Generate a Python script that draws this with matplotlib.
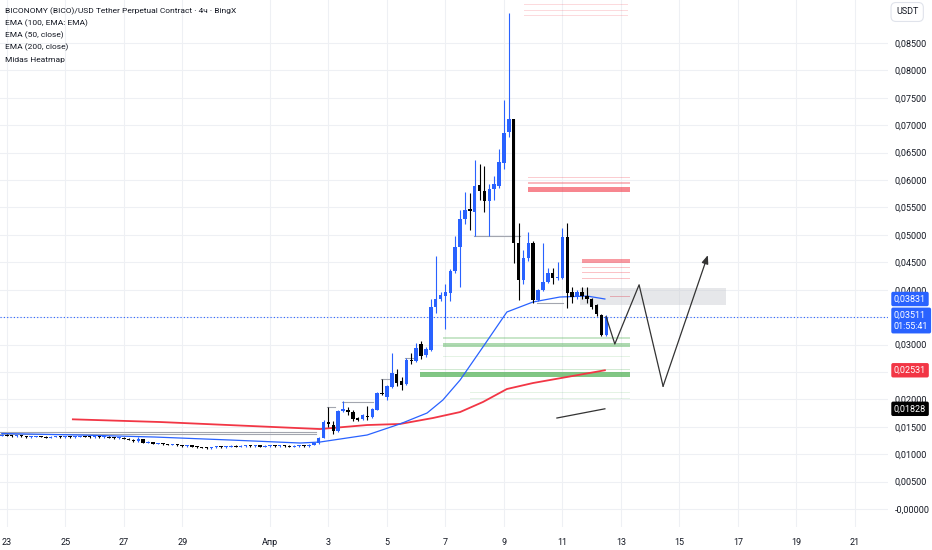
import numpy as np
import matplotlib
matplotlib.use("Agg")
import matplotlib.pyplot as plt
import matplotlib.transforms as mtransforms
from matplotlib import font_manager

# 4h candles, prices in 1e-4 USDT, first bar ~ Mar 22 evening, last bar Apr 12 12:00
opens = [134, 135, 134, 133, 134, 133, 131, 132, 133, 132, 130, 132, 133, 131, 132, 131,
         132, 133, 132, 131, 132, 131, 132, 130, 129, 130, 128, 126, 124, 127, 121, 122,
         119, 120, 118, 117, 118, 116, 115, 116, 114, 113, 112, 111, 113, 114, 113, 114,
         115, 114, 115, 116, 115, 116, 114, 115, 116, 115, 116, 115, 114, 115, 116, 115,
         117, 120, 130, 159, 154, 142, 179, 181, 177, 166, 164, 170, 168, 181, 212, 205,
         223, 246, 233, 228, 272, 270, 301, 281, 290, 368, 383, 388, 394, 434, 478, 529,
         547, 542, 591, 580, 562, 584, 590, 631, 688, 711, 485, 418, 458, 485, 381, 400,
         414, 430, 421, 422, 496, 395, 386, 396, 388, 383, 372, 354, 317]
highs = [136, 136, 135, 135, 135, 134, 133, 134, 134, 133, 133, 134, 134, 133, 133, 133,
         134, 134, 133, 133, 133, 133, 133, 131, 131, 131, 129, 127, 131, 128, 124, 123,
         121, 121, 119, 119, 119, 117, 117, 117, 115, 114, 113, 114, 115, 115, 115, 116,
         116, 116, 117, 117, 117, 117, 116, 117, 117, 117, 117, 116, 116, 117, 117, 118,
         121, 131, 162, 186, 160, 181, 197, 186, 180, 168, 173, 188, 184, 213, 237, 226,
         285, 255, 240, 275, 285, 303, 307, 296, 383, 462, 396, 410, 437, 498, 545, 578,
         576, 637, 629, 626, 592, 607, 657, 746, 905, 712, 522, 472, 505, 488, 402, 485,
         440, 440, 450, 513, 522, 405, 400, 405, 405, 385, 374, 356, 354]
lows = [133, 133, 132, 132, 132, 130, 130, 131, 131, 129, 129, 131, 130, 130, 130, 130,
        131, 131, 130, 130, 130, 130, 129, 128, 128, 127, 125, 123, 123, 120, 120, 118,
        118, 117, 116, 116, 115, 114, 114, 113, 112, 111, 110, 110, 112, 112, 112, 113,
        113, 113, 114, 114, 114, 113, 113, 114, 114, 114, 114, 113, 113, 114, 114, 114,
        116, 119, 129, 150, 137, 141, 177, 172, 160, 160, 162, 163, 166, 180, 208, 199,
        221, 225, 218, 226, 264, 268, 274, 278, 288, 358, 380, 328, 380, 430, 405, 520,
        509, 498, 564, 542, 498, 564, 585, 620, 679, 449, 381, 410, 452, 376, 379, 398,
        412, 410, 418, 420, 367, 375, 383, 383, 375, 365, 352, 316, 316]
closes = [135, 134, 133, 134, 133, 131, 132, 133, 132, 130, 132, 133, 131, 132, 131, 132,
          133, 132, 131, 132, 131, 132, 130, 129, 130, 128, 126, 124, 127, 121, 122, 119,
          120, 118, 117, 118, 116, 115, 116, 114, 113, 112, 111, 113, 114, 113, 114, 115,
          114, 115, 116, 115, 116, 114, 115, 116, 115, 116, 115, 114, 115, 116, 115, 117,
          120, 130, 159, 155, 142, 179, 182, 177, 165, 163, 171, 168, 182, 212, 210, 224,
          248, 230, 226, 272, 270, 294, 279, 292, 368, 383, 390, 396, 434, 478, 529, 545,
          544, 589, 580, 562, 584, 592, 633, 686, 711, 485, 418, 458, 485, 381, 400, 414,
          430, 421, 422, 496, 394, 386, 395, 388, 383, 368, 356, 317, 351.1]
last_bar_day = 11.5  # days after Apr 1 00:00

# moving averages (day, price)
ema50_days = [-9.17, -6.5, -3.93, -1.37, 1.03, 1.71, 3.32, 4.44, 5.37, 5.91, 6.5, 7.28, 8.1,
              8.99, 9.91, 10.84, 11.45]
ema50_vals = [0.01377, 0.0135, 0.01313, 0.01259, 0.01204, 0.01222, 0.0135, 0.01551, 0.01751,
              0.01988, 0.02353, 0.02955, 0.03594, 0.03776, 0.03867, 0.03885, 0.03831]
ema200_days = [-6.74, -3.76, -1.03, 1.71, 3.32, 4.44, 5.57, 6.5, 7.28, 8.1, 8.99, 10.15, 11.45]
ema200_vals = [0.01636, 0.01587, 0.01523, 0.01459, 0.01532, 0.01551, 0.0166, 0.01769, 0.01952,
               0.02189, 0.02298, 0.02408, 0.02531]
ema100_days = [9.81, 11.45]
ema100_vals = [0.0166, 0.01828]

# drawn projection path
path_days = [11.49, 11.79, 12.62, 13.44, 14.97]
path_vals = [0.0351, 0.0301, 0.0409, 0.0224, 0.0463]

# heatmap levels: start day, end day, low, high, colour, alpha
zones = [
    (8.68, 12.24, 0.0920, 0.0922, "#f23645", 0.18),
    (8.68, 12.24, 0.0909, 0.0911, "#f23645", 0.18),
    (8.68, 12.24, 0.0900, 0.0902, "#f23645", 0.18),
    (8.82, 12.31, 0.0603, 0.0605, "#f23645", 0.25),
    (8.82, 12.31, 0.0593, 0.0596, "#f23645", 0.35),
    (8.82, 12.31, 0.0578, 0.0587, "#f23645", 0.6),
    (10.67, 12.31, 0.0449, 0.0456, "#f23645", 0.5),
    (10.67, 12.31, 0.0440, 0.0442, "#f23645", 0.3),
    (10.67, 12.31, 0.0431, 0.0433, "#f23645", 0.3),
    (10.67, 12.31, 0.0419, 0.0421, "#f23645", 0.3),
    (11.62, 12.31, 0.0386, 0.0388, "#f23645", 0.55),
    (10.60, 15.59, 0.0372, 0.0403, "#c9cbd1", 0.45),
    (5.91, 12.31, 0.0311, 0.0313, "#4caf50", 0.3),
    (5.91, 12.31, 0.0296, 0.0303, "#4caf50", 0.45),
    (5.91, 12.31, 0.0278, 0.0280, "#4caf50", 0.15),
    (5.13, 12.31, 0.0254, 0.0256, "#4caf50", 0.25),
    (5.13, 12.31, 0.0240, 0.0250, "#4caf50", 0.7),
    (6.84, 12.31, 0.0212, 0.0214, "#4caf50", 0.15),
    (6.84, 12.31, 0.0201, 0.0203, "#4caf50", 0.15),
]

# thin grey level lines: start day, end day, price
grey_lines = [(-9.23, 1.57, 0.0140), (-9.23, 1.57, 0.0137), (1.95, 2.22, 0.0186),
              (2.46, 3.52, 0.0195), (3.79, 4.17, 0.0237), (4.62, 4.89, 0.0275),
              (6.97, 8.55, 0.0498), (9.13, 10.02, 0.0376)]

date_days = [-9, -7, -5, -3, 0, 2, 4, 6, 8, 10, 12, 14, 16, 18, 20]
date_labels = ["23", "25", "27", "29", "Апр", "3", "5", "7", "9", "11", "13", "15", "17", "19", "21"]
price_ticks = np.arange(0, 0.0851, 0.005)

legend_lines = ["BICONOMY (BICO)/USD Tether Perpetual Contract · 4ч · BingX",
                "EMA (100, EMA: EMA)", "EMA (50, close)", "EMA (200, close)", "Midas Heatmap"]

BLUE = "#2962ff"
RED = "#f23645"
INK = "#131722"

avail = {f.name for f in font_manager.fontManager.ttflist}
ui_font = "Liberation Sans Narrow" if "Liberation Sans Narrow" in avail else "Roboto"
plt.rcParams["font.family"] = [ui_font, "DejaVu Sans"]

W, H = 932, 550
fig = plt.figure(figsize=(W / 100, H / 100), dpi=100)
ax = fig.add_axes([0, (H - 527) / H, 888 / W, 527 / H])
ax.set_xlim(-9.231, 21.13)
ax.set_ylim(-0.00328, 0.09285)

o = np.array(opens) / 1e4
h = np.array(highs) / 1e4
l = np.array(lows) / 1e4
c = np.array(closes) / 1e4
n = len(o)
t = last_bar_day - (n - 1 - np.arange(n)) / 6.0
cols = np.where(c >= o, BLUE, "#000000")

for d0, d1, lo, hi, col, a in zones:
    ax.fill_between([d0, d1], lo, hi, color=col, alpha=a, lw=0, zorder=1)
for d0, d1, v in grey_lines:
    ax.plot([d0, d1], [v, v], color="#a3a6af", lw=0.8, zorder=2)

ax.plot(ema200_days, ema200_vals, color=RED, lw=1.3, zorder=2.5)
ax.plot(ema50_days, ema50_vals, color=BLUE, lw=0.9, zorder=2.5)
ax.plot(ema100_days, ema100_vals, color="#333333", lw=0.9, zorder=2.5)

ax.vlines(t, l, h, colors=cols, lw=0.8, zorder=3)
ax.bar(t, np.maximum(np.abs(c - o), 0.00018), bottom=np.minimum(o, c), width=0.12,
       color=cols, lw=0, zorder=4)

ax.axhline(c[-1], color=BLUE, lw=0.8, ls=(0, (1, 2)), zorder=2)

ax.plot(path_days[:-1], path_vals[:-1], color="#333333", lw=0.9, zorder=5)
ax.annotate("", xy=(path_days[-1], path_vals[-1]), xytext=(path_days[-2], path_vals[-2]),
            arrowprops=dict(arrowstyle="-|>,head_length=0.5,head_width=0.2", color="#333333",
                            lw=0.9, shrinkA=0, shrinkB=0), zorder=5)

# axes styling
for s in ax.spines.values():
    s.set_visible(False)
ax.set_xticks(date_days)
ax.set_xticklabels(date_labels)
ax.set_yticks(price_ticks)
ylabels = []
for v in price_ticks:
    if abs(v - 0.025) < 1e-9 or abs(v - 0.035) < 1e-9:
        ylabels.append("")
    elif v < 1e-9:
        ylabels.append("-0,00000")
    else:
        ylabels.append(f"{v:.5f}".replace(".", ","))
ax.set_yticklabels(ylabels)
ax.yaxis.tick_right()
ax.tick_params(axis="y", length=0, pad=5, labelsize=6.5, labelcolor=INK)
ax.tick_params(axis="x", length=0, pad=8, labelsize=6.5, labelcolor=INK)
ax.grid(True, color="#eef0f4", lw=0.8, zorder=0)
ax.set_axisbelow(True)

trans = mtransforms.blended_transform_factory(ax.transAxes, ax.transData)
tags = [(0.03831, "0,03831", BLUE), (0.03511, "0,03511\n01:55:41", BLUE),
        (0.02531, "0,02531", RED), (0.01828, "0,01828", "#000000")]
for v, txt, col in tags:
    two = "\n" in txt
    ax.annotate(txt, xy=(1 + 6 / 888, v), xycoords=trans,
                xytext=(0, 4.5 if two else 0), textcoords="offset points",
                ha="left", va="top" if two else "center", color="white",
                fontsize=6.5, linespacing=1.35, annotation_clip=False, zorder=10,
                bbox=dict(boxstyle="round,pad=0.3,rounding_size=0.2", fc=col, ec="none"))

fig.text(896 / W, 1 - 12 / H, "USDT", fontsize=6.5, color=INK, va="center", ha="left",
         bbox=dict(boxstyle="round,pad=0.55", fc="white", ec="#e0e3eb", lw=0.8))

for i, line in enumerate(legend_lines):
    fig.text(5 / W, 1 - (11 + 12.2 * i) / H, line, fontsize=6.0, color=INK, va="center",
             ha="left")

fig.savefig("out.png", dpi=100, facecolor="white")
